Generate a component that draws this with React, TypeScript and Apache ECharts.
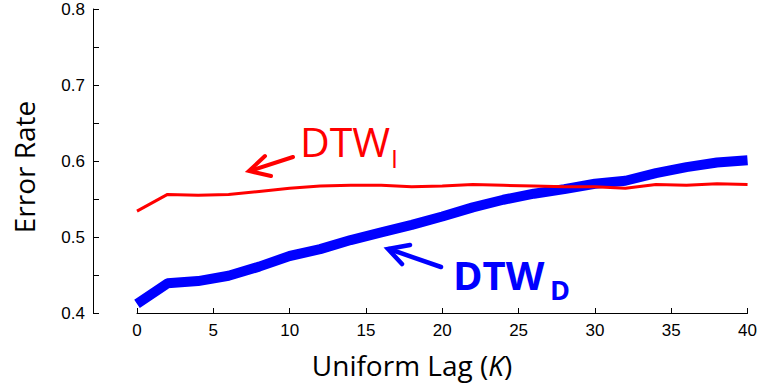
import React, { useEffect, useRef } from "react";
import * as echarts from "echarts";

const lags = [0, 2, 4, 6, 8, 10, 12, 14, 16, 18, 20, 22, 24, 26, 28, 30, 32, 34, 36, 38, 40];
const dtwI = [0.534, 0.556, 0.555, 0.556, 0.560, 0.564, 0.567, 0.568, 0.568, 0.566, 0.567, 0.569, 0.568, 0.567, 0.566, 0.566, 0.564, 0.569, 0.568, 0.570, 0.569];
const dtwD = [0.412, 0.439, 0.442, 0.449, 0.461, 0.475, 0.484, 0.496, 0.506, 0.516, 0.527, 0.539, 0.549, 0.557, 0.563, 0.570, 0.574, 0.584, 0.592, 0.598, 0.601];
const xTicks = { min: 0, max: 40, interval: 5 };
const yTicks = { min: 0.4, max: 0.8, interval: 0.05 };

export default function App() {
  const ref = useRef<HTMLDivElement>(null);
  useEffect(() => {
    if (!ref.current) return;
    const chart = echarts.init(ref.current, undefined, { renderer: "svg" });
    const labelFont = "'Liberation Sans', Arial, sans-serif";
    const titleFont = "'Open Sans', 'Noto Sans', sans-serif";
    chart.setOption({
      animation: false,
      grid: [
        { left: 93, width: 20, top: 9, bottom: 76 },
        { left: 137, right: 12, top: 9, bottom: 76 },
      ],
      xAxis: [
        { gridIndex: 0, type: "value", show: false, min: 0, max: 1 },
        {
          gridIndex: 1,
          type: "value",
          min: xTicks.min,
          max: xTicks.max,
          interval: xTicks.interval,
          axisLine: { show: true, lineStyle: { color: "#000", width: 1 } },
          axisTick: { show: true, inside: true, length: 5, lineStyle: { color: "#000" } },
          axisLabel: { color: "#000", fontSize: 17, fontFamily: labelFont, margin: 9 },
          splitLine: { show: false },
        },
      ],
      yAxis: [
        {
          gridIndex: 0,
          type: "value",
          min: yTicks.min,
          max: yTicks.max,
          interval: yTicks.interval,
          axisLine: { show: true, lineStyle: { color: "#000", width: 1 } },
          axisTick: { show: true, inside: true, length: 6, lineStyle: { color: "#000" } },
          axisLabel: {
            color: "#000",
            fontSize: 17,
            fontFamily: labelFont,
            margin: 8,
            formatter: (v: number) => (Math.round(v * 100) % 10 === 0 ? v.toFixed(1) : ""),
          },
          splitLine: { show: false },
        },
        { gridIndex: 1, type: "value", show: false, min: yTicks.min, max: yTicks.max },
      ],
      series: [
        {
          type: "line",
          xAxisIndex: 1,
          yAxisIndex: 1,
          data: lags.map((k, i) => [k, dtwI[i]]),
          showSymbol: false,
          lineStyle: { color: "#ff0000", width: 3 },
          z: 3,
        },
        {
          type: "line",
          xAxisIndex: 1,
          yAxisIndex: 1,
          data: lags.map((k, i) => [k, dtwD[i]]),
          showSymbol: false,
          lineStyle: { color: "#0000ff", width: 10 },
          z: 2,
        },
      ],
      graphic: [
        {
          type: "text",
          x: 24,
          y: 167,
          rotation: Math.PI / 2,
          style: { text: "Error Rate", fontSize: 28, fontFamily: titleFont, fill: "#000", align: "center", verticalAlign: "middle" },
        },
        {
          type: "text",
          x: 412,
          y: 365,
          style: {
            text: "Uniform Lag ({i|K})",
            fontSize: 28,
            fontFamily: titleFont,
            fill: "#000",
            align: "center",
            verticalAlign: "middle",
            rich: { i: { fontStyle: "italic", fontSize: 28, fontFamily: titleFont, fill: "#000" } },
          },
        },
        {
          type: "text",
          x: 300,
          y: 141,
          style: { text: "DTW", fontSize: 41, fontFamily: titleFont, fill: "#ff0000", align: "left", verticalAlign: "middle" },
        },
        {
          type: "text",
          x: 391,
          y: 158,
          style: { text: "I", fontSize: 25, fontFamily: titleFont, fill: "#ff0000", align: "left", verticalAlign: "middle" },
        },
        {
          type: "text",
          x: 453,
          y: 274,
          style: { text: "DTW", fontSize: 40, fontWeight: "bold", fontFamily: titleFont, fill: "#0000ff", align: "left", verticalAlign: "middle" },
        },
        {
          type: "text",
          x: 550,
          y: 289,
          style: { text: "D", fontSize: 27, fontWeight: "bold", fontFamily: titleFont, fill: "#0000ff", align: "left", verticalAlign: "middle" },
        },
        {
          type: "line",
          shape: { x1: 293, y1: 157, x2: 250, y2: 171 },
          style: { stroke: "#ff0000", lineWidth: 4, lineCap: "round" },
        },
        {
          type: "polyline",
          shape: { points: [[265, 156], [249, 171], [271, 176]] },
          style: { stroke: "#ff0000", lineWidth: 4, lineCap: "round", lineJoin: "miter", fill: null },
        },
        {
          type: "line",
          shape: { x1: 441, y1: 267, x2: 389, y2: 249 },
          style: { stroke: "#0000ff", lineWidth: 4.5, lineCap: "round" },
        },
        {
          type: "polyline",
          shape: { points: [[410, 245], [388, 249], [402, 264]] },
          style: { stroke: "#0000ff", lineWidth: 4.5, lineCap: "round", lineJoin: "miter", fill: null },
        },
      ],
    });
    return () => chart.dispose();
  }, []);
  return <div ref={ref} style={{ position: "fixed", left: 0, top: 0, width: 760, height: 389, background: "#fff" }} />;
}
